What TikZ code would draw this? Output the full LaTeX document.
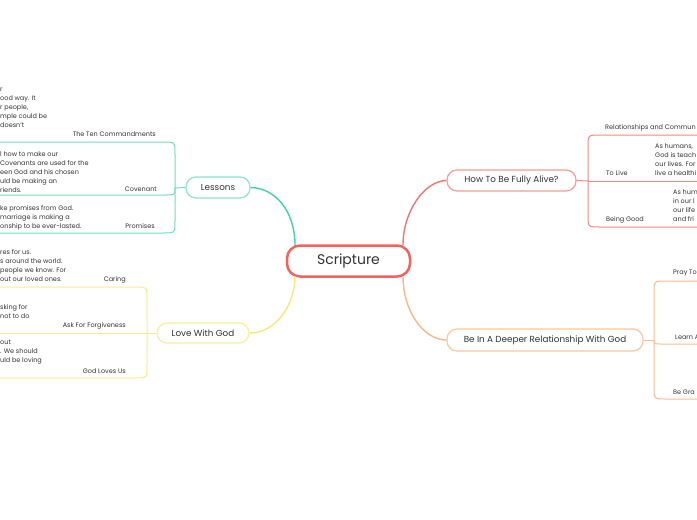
\documentclass[tikz,border=0pt]{standalone}
\usepackage{fontspec}
\setmainfont{Poppins}
\usetikzlibrary{calc}
\definecolor{txt}{HTML}{333333}
\definecolor{cmain}{HTML}{F4625C}
\definecolor{tealA}{HTML}{40D3A3}
\definecolor{tealB}{HTML}{90E4C7}
\definecolor{tealC}{HTML}{74DDBA}
\definecolor{yelA}{HTML}{FBE77A}
\definecolor{yelB}{HTML}{FCEE9E}
\definecolor{yelC}{HTML}{FCEB8C}
\definecolor{redA}{HTML}{F8736E}
\definecolor{redB}{HTML}{F99A96}
\definecolor{redC}{HTML}{F88782}
\definecolor{orA}{HTML}{FDB684}
\definecolor{orB}{HTML}{FEC69F}
\definecolor{orC}{HTML}{FDBC8E}
\begin{document}
\begin{tikzpicture}[x=1pt,y=-1pt,
  mainbox/.style={draw=cmain, line width=2.5pt, rounded corners=13pt, minimum width=123pt, minimum height=31pt, inner sep=0pt, font=\fontsize{14}{17}\selectfont, text=txt},
  topic/.style={rounded corners=10pt, line width=1.2pt, inner sep=0pt, minimum height=21pt, font=\fontsize{8.8}{10}\selectfont, text=txt},
  lbl/.style={inner sep=0pt, font=\fontsize{6.5}{9}\selectfont, text=txt},
  note/.style={lbl, align=left},
  conn/.style={line width=1.4pt},
  sub/.style={line width=1pt}]
\useasboundingbox (0,0) rectangle (697,520);
\fill[white] (0,0) rectangle (697,520);
\clip (0,0) rectangle (697,520);

% central and main topics
\node[mainbox] (S) at (348.5,261) {Scripture};
\node[topic, draw=tealB, minimum width=64pt] (L) at (218,187.5) {Lessons};
\node[topic, draw=yelB, minimum width=92pt, minimum height=20pt] (LW) at (203,333) {Love With God};
\node[topic, draw=redB, minimum width=129pt] (H) at (511.5,180.5) {How To Be Fully Alive?};
\node[topic, draw=orB, minimum width=196pt, minimum height=22pt] (B) at (545,340) {Be In A Deeper Relationship With God};

% main connectors
\coordinate (P1) at (295,245);
\coordinate (P2) at (295,276);
\coordinate (P3) at (403,245);
\coordinate (P4) at (403,276);
\draw[conn, tealA] (L.east) .. controls (276,188) and (295,212) .. (P1);
\draw[conn, yelA] (LW.east) .. controls (276,333) and (295,305) .. (P2);
\draw[conn, redA] (P3) .. controls (403,212) and (424,181) .. (H.west);
\draw[conn, orA] (P4) .. controls (403,312) and (424,340) .. (B.west);

% Lessons branch
\coordinate (J1) at (175,188);
\coordinate (eTen) at (-5,142);
\coordinate (eCov) at (-5,195);
\coordinate (ePro) at (-5,233);
\draw[sub, tealC] (L.west) -- (J1);
\draw[sub, tealC] (J1) -- (175,154) .. controls (175,142) .. (163,142) -- (eTen);
\draw[sub, tealC] (J1) .. controls (175,195) .. (165,195) -- (eCov);
\draw[sub, tealC] (J1) -- (175,221) .. controls (175,233) .. (163,233) -- (ePro);
\node[lbl, anchor=east] (tTen) at (156,134.5) {The Ten Commandments};
\node[lbl, anchor=east] (tCov) at (157,189.5) {Covenant};
\node[lbl, anchor=east] (tPro) at (155,226.5) {Promises};
\node[note, anchor=west] (nTen) at (0,107.5) {r\\ood way. It\\r people,\\mple could be\\doesn't};
\node[note, anchor=west] (nCov) at (0,172) {l how to make our\\Covenants are used for the\\een God and his chosen\\uld be making an\\riends.};
\node[note, anchor=west] (nPro) at (0,217.5) {ke promises from God.\\marriage is making a\\onship to be ever-lasted.};

% Love With God branch
\coordinate (J2) at (147,333);
\coordinate (eCar) at (-5,287);
\coordinate (eAsk) at (-5,333);
\coordinate (eGod) at (-5,378);
\draw[sub, yelC] (LW.west) -- (J2);
\draw[sub, yelC] (J2) -- (147,299) .. controls (147,287) .. (135,287) -- (eCar);
\draw[sub, yelC] (J2) -- (eAsk);
\draw[sub, yelC] (J2) -- (147,366) .. controls (147,378) .. (135,378) -- (eGod);
\node[lbl, anchor=east] (tCar) at (126,279.5) {Caring};
\node[lbl, anchor=east] (tAsk) at (126,325.5) {Ask For Forgiveness};
\node[lbl, anchor=east] (tGod) at (126,371.5) {God Loves Us};
\node[note, anchor=west] (nCar) at (0,266) {res for us.\\s around the world.\\people we know. For\\out our loved ones.};
\node[note, anchor=west] (nAsk) at (0,312) {sking for\\not to do};
\node[note, anchor=west] (nGod) at (0,352.5) {out\\. We should\\uld be loving};

% How To Be Fully Alive branch
\coordinate (J3) at (588,181);
\coordinate (eRel) at (702,135);
\coordinate (eLiv) at (702,181);
\coordinate (eBei) at (702,227);
\draw[sub, redC] (H.east) -- (J3);
\draw[sub, redC] (J3) -- (588,147) .. controls (588,135) .. (600,135) -- (eRel);
\draw[sub, redC] (J3) -- (eLiv);
\draw[sub, redC] (J3) -- (588,215) .. controls (588,227) .. (600,227) -- (eBei);
\node[lbl, anchor=west] (tRel) at (605,127.5) {Relationships and Commun};
\node[lbl, anchor=west] (tLiv) at (606,173.5) {To Live};
\node[lbl, anchor=west] (tBei) at (606,219.5) {Being Good};
\node[note, anchor=west] (nLiv) at (655,160) {As humans,\\God is teach\\our lives. For\\live a healthi};
\node[note, anchor=west] (nBei) at (673,206) {As hum\\in our l\\our life\\and fri};

% Deeper relationship branch
\coordinate (J4) at (654,340);
\coordinate (ePra) at (702,281);
\coordinate (eLea) at (702,344);
\coordinate (eGra) at (702,399);
\draw[sub, orC] (B.east) -- (J4);
\draw[sub, orC] (J4) -- (654,293) .. controls (654,281) .. (666,281) -- (ePra);
\draw[sub, orC] (J4) .. controls (654,344) .. (662,344) -- (eLea);
\draw[sub, orC] (J4) -- (654,387) .. controls (654,399) .. (666,399) -- (eGra);
\node[lbl, anchor=west] (tPra) at (673,273.5) {Pray To};
\node[lbl, anchor=west] (tLea) at (675,337.5) {Learn A};
\node[lbl, anchor=west] (tGra) at (673,392.5) {Be Gra};
\end{tikzpicture}
\end{document}
